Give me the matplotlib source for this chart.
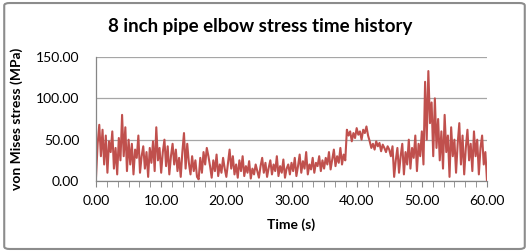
import numpy as np
import matplotlib
matplotlib.use('Agg')
import matplotlib.pyplot as plt
from matplotlib.patches import FancyBboxPatch
from matplotlib.ticker import MultipleLocator, FormatStrFormatter

# stress samples, one every 0.25 s
dt = 0.25
stress = [
    # 0 - 5 s
    5, 45, 68, 30, 62, 20, 55, 10, 48, 35, 60, 15, 40, 8, 52, 25, 80, 30, 65, 12,
    # 5 - 10 s
    50, 20, 45, 8, 38, 28, 55, 10, 30, 42, 15, 35, 5, 40, 22, 48, 12, 65, 25, 40,
    # 10 - 15 s
    10, 35, 50, 18, 42, 8, 30, 45, 20, 38, 12, 28, 5, 35, 58, 15, 45, 22, 8, 30,
    # 15 - 20 s
    12, 25, 5, 2, 28, 10, 35, 20, 40, 30, 18, 4, 25, 12, 32, 6, 20, 10, 28, 15,
    # 20 - 25 s
    5, 22, 38, 15, 30, 8, 20, 4, 25, 12, 30, 6, 18, 10, 24, 3, 15, 8, 20, 12,
    # 25 - 30 s
    4, 18, 28, 10, 22, 5, 16, 25, 8, 20, 12, 30, 6, 18, 10, 26, 4, 15, 20, 8,
    # 30 - 35 s
    22, 12, 28, 6, 18, 32, 10, 24, 15, 35, 8, 20, 14, 28, 10, 22, 18, 30, 12, 25,
    # 35 - 40 s
    15, 28, 20, 35, 14, 26, 38, 18, 30, 22, 40, 20, 32, 25, 62, 55, 60, 48, 58, 52,
    # 40 - 45 s
    64, 56, 60, 50, 62, 58, 66, 55, 48, 40, 45, 38, 48, 42, 46, 36, 44, 40, 35, 42,
    # 45 - 50 s
    38, 30, 42, 5, 25, 40, 10, 30, 45, 8, 35, 20, 50, 15, 40, 28, 55, 12, 45, 30,
    # 50 - 55 s
    60, 20, 120, 50, 133, 70, 95, 30, 100, 40, 75, 25, 60, 15, 80, 35, 55, 5, 65, 30,
    # 55 - 60 s
    50, 10, 45, 70, 20, 55, 8, 40, 62, 25, 45, 12, 60, 30, 50, 8, 40, 55, 20, 35, 0,
]
time = np.arange(len(stress)) * dt

title = '8 inch pipe elbow stress time history'
xlabel = 'Time (s)'
ylabel = 'von Mises stress (MPa)'

plt.rcParams['font.family'] = ['Lato', 'DejaVu Sans']

fig = plt.figure(figsize=(5.29, 2.52), dpi=100)
ax = fig.add_axes([0.1815, 0.2817, 0.7391, 0.4921])

ax.plot(time, stress, color='#C0504D', lw=1.5)

ax.set_xlim(0, 60)
ax.set_ylim(0, 150)
ax.xaxis.set_major_locator(MultipleLocator(10))
ax.xaxis.set_minor_locator(MultipleLocator(10 / 6.0))
ax.yaxis.set_major_locator(MultipleLocator(50))
ax.xaxis.set_major_formatter(FormatStrFormatter('%.2f'))
ax.yaxis.set_major_formatter(FormatStrFormatter('%.2f'))

ax.grid(axis='y', color='#A6A6A6', lw=0.9)
ax.set_axisbelow(True)
for side in ('top', 'right'):
    ax.spines[side].set_visible(False)
for side in ('left', 'bottom'):
    ax.spines[side].set_color('#868686')
    ax.spines[side].set_linewidth(0.9)

ax.tick_params(axis='x', which='both', direction='out', color='#868686',
               labelsize=10, pad=6)
ax.tick_params(axis='x', which='major', length=4)
ax.tick_params(axis='x', which='minor', length=4)
ax.tick_params(axis='y', length=0, labelsize=10, pad=12)

ax.set_xlabel(xlabel, fontsize=10, fontweight='bold', labelpad=8)
ax.set_ylabel(ylabel, fontsize=10, fontweight='bold', labelpad=9)

fig.text(0.492, 0.893, title, ha='center', va='center',
         fontsize=13.5, fontweight='bold')

# chart area border
border = FancyBboxPatch((0.008, 0.012), 0.984, 0.976,
                        boxstyle='round,pad=0,rounding_size=0.01',
                        transform=fig.transFigure, fill=False,
                        edgecolor='#8C8C8C', lw=1.5)
fig.patches.append(border)

fig.savefig('out.png', dpi=100)
